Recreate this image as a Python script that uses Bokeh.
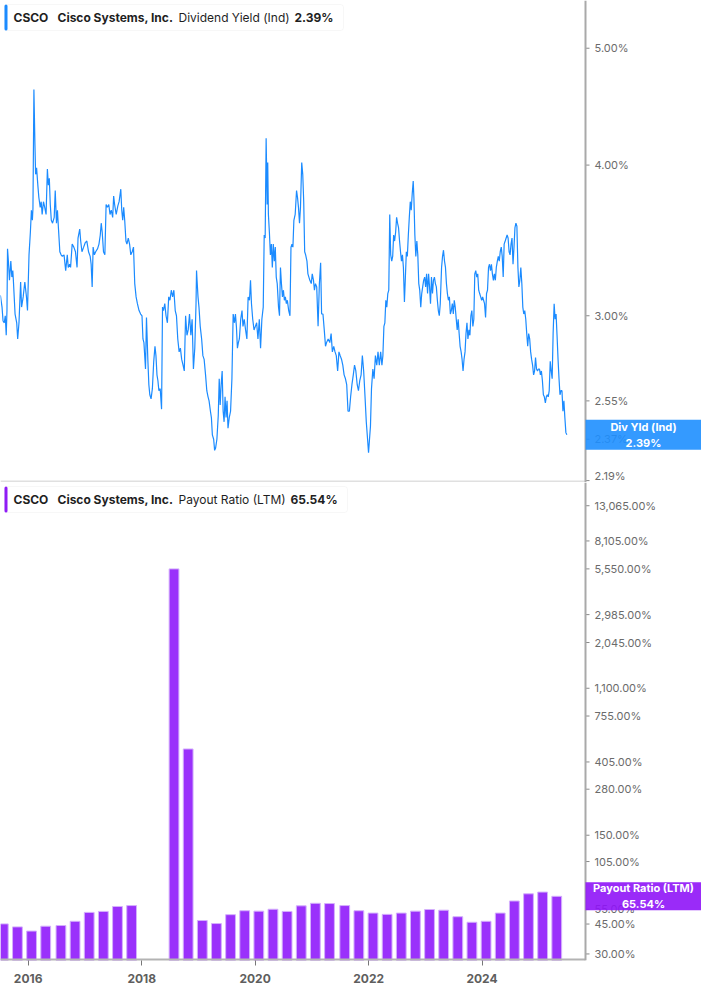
import numpy as np
import pandas as pd
from bokeh.plotting import figure
from bokeh.layouts import column
from bokeh.models import (FixedTicker, Label, Range1d, DatetimeTickFormatter,
                          ColumnDataSource, BoxAnnotation, Span)
from bokeh.core.properties import value
from bokeh.embed import file_html
from bokeh.resources import INLINE

# ---------------- data ----------------
symbol = "CSCO"
company = "Cisco Systems, Inc."
yield_name = "Dividend Yield (Ind)"
payout_name = "Payout Ratio (LTM)"
yield_short = "Div Yld (Ind)"
yield_last = 2.39
payout_last = 65.54

# dividend yield (%) at decimal-year dates
yield_t = [
2015.510, 2015.539, 2015.557, 2015.579, 2015.596, 2015.613, 2015.626, 2015.636, 2015.653, 2015.670,
2015.694, 2015.712, 2015.729, 2015.739, 2015.769, 2015.798, 2015.815, 2015.838, 2015.867, 2015.884,
2015.912, 2015.941, 2015.970, 2015.988, 2016.015, 2016.039, 2016.057, 2016.074, 2016.084, 2016.101,
2016.119, 2016.131, 2016.148, 2016.170, 2016.188, 2016.212, 2016.229, 2016.246, 2016.269, 2016.291,
2016.315, 2016.338, 2016.355, 2016.372, 2016.389, 2016.407, 2016.429, 2016.458, 2016.476, 2016.498,
2016.515, 2016.532, 2016.557, 2016.579, 2016.601, 2016.631, 2016.660, 2016.688, 2016.705, 2016.729,
2016.746, 2016.774, 2016.803, 2016.832, 2016.860, 2016.877, 2016.907, 2016.924, 2016.946, 2016.976,
2017.005, 2017.032, 2017.062, 2017.091, 2017.108, 2017.126, 2017.143, 2017.165, 2017.188, 2017.222,
2017.246, 2017.269, 2017.286, 2017.303, 2017.326, 2017.350, 2017.372, 2017.394, 2017.419, 2017.441,
2017.463, 2017.488, 2017.505, 2017.522, 2017.550, 2017.579, 2017.601, 2017.631, 2017.648, 2017.665,
2017.682, 2017.700, 2017.722, 2017.739, 2017.763, 2017.786, 2017.808, 2017.832, 2017.855, 2017.877,
2017.901, 2017.924, 2017.953, 2017.981, 2018.005, 2018.022, 2018.039, 2018.067, 2018.084, 2018.108,
2018.126, 2018.143, 2018.165, 2018.188, 2018.212, 2018.234, 2018.251, 2018.269, 2018.286, 2018.303,
2018.326, 2018.350, 2018.367, 2018.384, 2018.407, 2018.429, 2018.453, 2018.476, 2018.498, 2018.522,
2018.545, 2018.567, 2018.591, 2018.613, 2018.636, 2018.660, 2018.682, 2018.705, 2018.729, 2018.751,
2018.774, 2018.798, 2018.820, 2018.843, 2018.867, 2018.889, 2018.912, 2018.936, 2018.958, 2018.967,
2018.976, 2018.993, 2019.010, 2019.032, 2019.057, 2019.079, 2019.101, 2019.126, 2019.148, 2019.170,
2019.188, 2019.212, 2019.229, 2019.246, 2019.269, 2019.286, 2019.303, 2019.326, 2019.350, 2019.367,
2019.384, 2019.401, 2019.419, 2019.436, 2019.453, 2019.470, 2019.488, 2019.505, 2019.522, 2019.544,
2019.567, 2019.591, 2019.613, 2019.636, 2019.653, 2019.670, 2019.688, 2019.705, 2019.722, 2019.746,
2019.769, 2019.786, 2019.808, 2019.832, 2019.855, 2019.877, 2019.901, 2019.919, 2019.936, 2019.958,
2019.981, 2020.005, 2020.027, 2020.050, 2020.074, 2020.096, 2020.119, 2020.143, 2020.160, 2020.177,
2020.194, 2020.212, 2020.222, 2020.234, 2020.251, 2020.269, 2020.286, 2020.303, 2020.320, 2020.338,
2020.355, 2020.372, 2020.389, 2020.412, 2020.429, 2020.446, 2020.463, 2020.481, 2020.498, 2020.515,
2020.532, 2020.550, 2020.567, 2020.591, 2020.613, 2020.631, 2020.648, 2020.665, 2020.682, 2020.705,
2020.729, 2020.746, 2020.763, 2020.781, 2020.798, 2020.820, 2020.838, 2020.855, 2020.872, 2020.889,
2020.912, 2020.929, 2020.946, 2020.963, 2020.988, 2021.005, 2021.027, 2021.044, 2021.062, 2021.084,
2021.108, 2021.131, 2021.153, 2021.170, 2021.194, 2021.217, 2021.239, 2021.257, 2021.286, 2021.315,
2021.338, 2021.360, 2021.384, 2021.407, 2021.429, 2021.453, 2021.476, 2021.498, 2021.522, 2021.544,
2021.567, 2021.591, 2021.613, 2021.636, 2021.660, 2021.682, 2021.705, 2021.729, 2021.751, 2021.774,
2021.798, 2021.820, 2021.843, 2021.867, 2021.889, 2021.912, 2021.936, 2021.958, 2021.981, 2021.998,
2022.015, 2022.032, 2022.050, 2022.074, 2022.096, 2022.119, 2022.143, 2022.165, 2022.188, 2022.212,
2022.234, 2022.251, 2022.269, 2022.286, 2022.303, 2022.320, 2022.338, 2022.355, 2022.372, 2022.389,
2022.407, 2022.424, 2022.441, 2022.458, 2022.476, 2022.493, 2022.510, 2022.527, 2022.545, 2022.562,
2022.579, 2022.596, 2022.613, 2022.631, 2022.648, 2022.665, 2022.682, 2022.700, 2022.717, 2022.734,
2022.751, 2022.769, 2022.786, 2022.798, 2022.815, 2022.832, 2022.850, 2022.867, 2022.884, 2022.901,
2022.919, 2022.936, 2022.953, 2022.970, 2022.988, 2023.005, 2023.022, 2023.039, 2023.057, 2023.074,
2023.091, 2023.108, 2023.126, 2023.143, 2023.160, 2023.177, 2023.194, 2023.212, 2023.229, 2023.246,
2023.263, 2023.286, 2023.303, 2023.320, 2023.338, 2023.355, 2023.372, 2023.389, 2023.407, 2023.424,
2023.441, 2023.458, 2023.476, 2023.493, 2023.510, 2023.527, 2023.545, 2023.562, 2023.579, 2023.596,
2023.613, 2023.631, 2023.648, 2023.665, 2023.682, 2023.700, 2023.717, 2023.734, 2023.751, 2023.769,
2023.786, 2023.803, 2023.820, 2023.838, 2023.855, 2023.872, 2023.889, 2023.907, 2023.924, 2023.941,
2023.958, 2023.976, 2023.993, 2024.010, 2024.027, 2024.044, 2024.062, 2024.079, 2024.096, 2024.114,
2024.131, 2024.148, 2024.165, 2024.182, 2024.200, 2024.217, 2024.234, 2024.251, 2024.269, 2024.286,
2024.303, 2024.320, 2024.338, 2024.355, 2024.372, 2024.389, 2024.407, 2024.424, 2024.441, 2024.458,
2024.476, 2024.493, 2024.510, 2024.527, 2024.545, 2024.562, 2024.579, 2024.596, 2024.613, 2024.631,
2024.648, 2024.665, 2024.682, 2024.700, 2024.717, 2024.734, 2024.751, 2024.769, 2024.786, 2024.803,
2024.820, 2024.838, 2024.855, 2024.872, 2024.889, 2024.907, 2024.924, 2024.941, 2024.958, 2024.976,
2024.993, 2025.010, 2025.027, 2025.044, 2025.062, 2025.079, 2025.096, 2025.114, 2025.131, 2025.148,
2025.165, 2025.182, 2025.200, 2025.217, 2025.234, 2025.251, 2025.269, 2025.286, 2025.303, 2025.320,
2025.338, 2025.355, 2025.372, 2025.389, 2025.407, 2025.424, 2025.441, 2025.458, 2025.476, 2025.493]

yield_v = [
3.12, 3.05, 2.97, 2.96, 3.00, 2.89, 3.03, 3.41, 3.32, 3.21,
3.33, 3.23, 3.27, 3.21, 3.01, 2.96, 2.87, 2.96, 3.20, 3.05,
3.11, 3.20, 3.11, 3.03, 3.37, 3.52, 3.67, 3.60, 3.68, 4.62,
4.16, 3.93, 3.98, 3.85, 3.76, 3.69, 3.73, 3.64, 3.73, 3.69,
3.64, 3.97, 3.85, 3.90, 3.71, 3.60, 3.58, 3.62, 3.81, 3.58,
3.67, 3.55, 3.39, 3.37, 3.36, 3.37, 3.27, 3.37, 3.29, 3.31,
3.29, 3.44, 3.42, 3.39, 3.29, 3.48, 3.54, 3.46, 3.39, 3.42,
3.45, 3.46, 3.39, 3.36, 3.31, 3.17, 3.42, 3.37, 3.39, 3.41,
3.44, 3.50, 3.58, 3.52, 3.39, 3.37, 3.71, 3.69, 3.71, 3.64,
3.67, 3.62, 3.77, 3.71, 3.64, 3.70, 3.73, 3.82, 3.67, 3.60,
3.69, 3.60, 3.46, 3.44, 3.48, 3.44, 3.37, 3.39, 3.42, 3.19,
3.11, 3.07, 3.03, 3.01, 3.00, 2.87, 2.85, 2.71, 2.99, 2.76,
2.63, 2.58, 2.56, 2.61, 2.75, 2.83, 2.78, 2.68, 2.65, 2.60,
2.61, 2.51, 3.05, 3.03, 3.07, 3.00, 2.96, 3.11, 3.09, 3.15,
3.11, 3.15, 3.03, 3.00, 2.87, 2.80, 2.82, 2.76, 2.73, 2.70,
3.00, 2.89, 2.92, 3.01, 2.89, 2.98, 2.71, 2.82, 3.07, 3.27,
3.21, 3.11, 3.05, 2.94, 2.87, 2.78, 2.76, 2.68, 2.60, 2.57,
2.55, 2.50, 2.47, 2.39, 2.37, 2.32, 2.33, 2.37, 2.48, 2.66,
2.53, 2.63, 2.70, 2.50, 2.45, 2.57, 2.47, 2.55, 2.42, 2.47,
2.50, 2.66, 3.01, 2.96, 3.01, 2.94, 2.82, 2.85, 2.87, 2.98,
3.03, 2.94, 2.98, 2.92, 2.87, 3.11, 3.09, 3.21, 3.07, 2.98,
2.92, 2.94, 2.96, 2.87, 2.98, 2.82, 2.98, 3.05, 3.50, 3.48,
4.21, 3.71, 4.02, 3.64, 3.52, 3.37, 3.44, 3.29, 3.44, 3.33,
3.42, 3.23, 3.19, 3.05, 3.00, 3.29, 3.19, 3.11, 3.15, 3.09,
3.11, 3.07, 3.09, 3.03, 3.00, 3.42, 3.44, 3.42, 3.60, 3.64,
3.81, 3.76, 3.69, 3.58, 3.69, 4.02, 3.93, 3.73, 3.39, 3.37,
3.33, 3.25, 3.23, 3.21, 3.19, 3.25, 3.21, 3.15, 3.19, 3.17,
2.94, 3.19, 3.32, 3.01, 3.01, 2.92, 2.83, 2.85, 2.87, 2.85,
2.90, 2.80, 2.83, 2.80, 2.78, 2.70, 2.80, 2.78, 2.76, 2.73,
2.68, 2.66, 2.63, 2.50, 2.50, 2.57, 2.63, 2.68, 2.73, 2.70,
2.63, 2.60, 2.65, 2.68, 2.78, 2.70, 2.57, 2.45, 2.37, 2.31,
2.37, 2.43, 2.61, 2.71, 2.66, 2.78, 2.73, 2.80, 2.73, 2.80,
2.73, 2.78, 2.94, 2.96, 3.09, 3.05, 3.13, 3.15, 3.64, 3.37,
3.33, 3.36, 3.50, 3.46, 3.52, 3.62, 3.58, 3.55, 3.46, 3.39,
3.33, 3.37, 3.29, 3.08, 3.23, 3.39, 3.36, 3.50, 3.62, 3.73,
3.67, 3.79, 3.88, 3.76, 3.50, 3.36, 3.46, 3.37, 3.19, 3.15,
3.05, 3.13, 3.17, 3.21, 3.23, 3.17, 3.25, 3.13, 3.25, 3.17,
3.07, 3.23, 3.13, 3.21, 3.23, 3.19, 3.17, 3.09, 3.03, 3.00,
3.07, 3.29, 3.36, 3.40, 3.33, 3.29, 3.19, 3.13, 3.09, 3.11,
3.01, 3.03, 3.07, 3.01, 3.09, 3.05, 2.98, 2.92, 2.98, 2.90,
2.83, 2.80, 2.76, 2.70, 2.76, 2.80, 2.90, 2.96, 2.87, 2.92,
2.89, 3.00, 3.03, 2.94, 2.98, 3.25, 3.27, 3.23, 3.25, 3.15,
3.13, 3.11, 3.09, 3.11, 3.09, 3.07, 2.99, 3.13, 3.15, 3.29,
3.31, 3.27, 3.31, 3.25, 3.21, 3.25, 3.21, 3.29, 3.33, 3.36,
3.33, 3.39, 3.42, 3.36, 3.23, 3.44, 3.46, 3.48, 3.50, 3.48,
3.39, 3.37, 3.44, 3.48, 3.31, 3.42, 3.55, 3.58, 3.56, 3.29,
3.17, 3.21, 3.29, 3.19, 3.05, 3.01, 3.03, 2.98, 2.90, 2.83,
2.90, 2.87, 2.80, 2.76, 2.73, 2.68, 2.70, 2.77, 2.71, 2.70,
2.71, 2.71, 2.68, 2.70, 2.65, 2.58, 2.57, 2.54, 2.57, 2.58,
2.57, 2.60, 2.75, 2.70, 2.66, 2.90, 3.07, 2.98, 3.01, 2.89,
2.76, 2.66, 2.58, 2.60, 2.60, 2.50, 2.55, 2.47, 2.40, 2.39]

# payout ratio (LTM, %) at fiscal quarter ends; None = not shown (negative)
payout_dates = ["2015-07-25", "2015-10-24", "2016-01-23", "2016-04-23", "2016-07-30",
                "2016-10-29", "2017-01-28", "2017-04-29", "2017-07-29", "2017-10-28",
                "2018-01-27", "2018-04-28", "2018-07-28", "2018-10-27", "2019-01-26",
                "2019-04-27", "2019-07-27", "2019-10-26", "2020-01-25", "2020-04-25",
                "2020-07-25", "2020-10-24", "2021-01-23", "2021-04-24", "2021-07-31",
                "2021-10-30", "2022-01-29", "2022-04-30", "2022-07-30", "2022-10-29",
                "2023-01-28", "2023-04-29", "2023-07-29", "2023-10-28", "2024-01-27",
                "2024-04-27", "2024-07-27", "2024-10-26", "2025-01-25", "2025-04-26"]
payout_v = [45.1, 43.3, 40.9, 43.7, 44.1, 46.7, 52.7, 53.4, 57.1, 57.8,
            None, None, 5550.0, 483.0, 47.2, 45.3, 51.1, 53.9, 53.6, 55.0,
            53.4, 57.6, 59.6, 59.4, 57.8, 53.9, 52.2, 51.3, 52.2, 53.6,
            54.8, 54.3, 49.7, 46.1, 46.7, 52.2, 61.5, 67.8, 69.4, 65.54]

yield_ticks = [2.19, 2.37, 2.55, 3.00, 4.00, 5.00]
payout_ticks = [30, 45, 55, 105, 150, 280, 405, 755, 1100, 2045, 2985, 5550, 8105, 13065]
year_ticks = ["2016-01-01", "2018-01-01", "2020-01-01", "2022-01-01", "2024-01-01"]

x_window = (2015.512, 2025.822)      # left edge .. value-axis position
yield_window = (2.182, 5.477)
payout_window = (27.45, 17900.0)

# ---------------- helpers ----------------
def frac_year(ts):
    t = np.asarray(ts, float)
    yrs = np.floor(t).astype(int)
    starts = pd.to_datetime([f"{y}-01-01" for y in yrs])
    ends = pd.to_datetime([f"{y + 1}-01-01" for y in yrs])
    return starts + (ends - starts) * (t - yrs)

def ms(ts):
    return pd.Timestamp(ts).value / 1e6

FONT = "Inter"
BLUE = "#1b8bff"
PURPLE = "#9a31fb"
AXIS_GREY = "#a9a9a9"
W = 701
AX = 585                 # pixel position of the value axis
xw = frac_year(list(x_window))
x_start, x_axis = ms(xw[0]), ms(xw[1])
ms_per_px = (x_axis - x_start) / AX
x_end = x_start + W * ms_per_px
xr = Range1d(start=x_start, end=x_end)

def pct(v):
    return f"{v:,.2f}%"

def base_style(p):
    p.grid.visible = False
    p.outline_line_color = None
    p.background_fill_color = "white"
    p.border_fill_color = "white"

def screen_y(yv, rng, frame_h):
    return frame_h * (np.log(yv) - np.log(rng[0])) / (np.log(rng[1]) - np.log(rng[0]))

def value_axis(p, ticks, rng, frame_h):
    # axis line, outward ticks and labels at the value-axis position
    p.add_layout(Span(location=x_axis, dimension="height", line_color=AXIS_GREY,
                      line_width=2))
    # labels too close to the bottom edge are lifted so they stay fully visible
    offs = [float(min(0.0, screen_y(t, rng, frame_h) - 7.0)) for t in ticks]
    src = ColumnDataSource(dict(x0=[x_axis] * len(ticks),
                                x1=[x_axis + 4 * ms_per_px] * len(ticks),
                                y=ticks, lab=[pct(t) for t in ticks], yo=offs))
    p.segment(x0="x0", y0="y", x1="x1", y1="y", source=src, line_color="#8a8a8a",
              line_width=1)
    p.text(x="x0", y="y", text="lab", source=src, x_offset=9, y_offset="yo",
           text_baseline="middle", text_align="left", text_font=value(FONT),
           text_font_size=value("11px"), text_color="#6b6b6b")

def header(p, frame_h, accent, metric, val, val_x, box_r):
    top, bot = frame_h - 4, frame_h - 30
    p.add_layout(BoxAnnotation(left=4, right=box_r, top=top, bottom=bot,
                               left_units="screen", right_units="screen",
                               top_units="screen", bottom_units="screen",
                               fill_color="white", fill_alpha=1.0,
                               line_color="#e4e4e4", line_width=1, border_radius=3))
    p.add_layout(BoxAnnotation(left=4, right=7, top=top, bottom=bot,
                               left_units="screen", right_units="screen",
                               top_units="screen", bottom_units="screen",
                               fill_color=accent, fill_alpha=1.0, line_color=None,
                               border_radius=2))
    cy = (top + bot) / 2
    parts = [(13, symbol, "bold"), (57, company, "bold"), (178, metric, "normal"),
             (val_x, val, "bold")]
    for x, t, st in parts:
        p.add_layout(Label(x=x, y=cy, x_units="screen", y_units="screen", text=t,
                           text_font=FONT, text_font_size="12px", text_font_style=st,
                           text_color="#1f1f1f", text_baseline="middle", text_align="left"))

def value_box(p, yv, rng, frame_h, color, text, half_h):
    sy = screen_y(yv, rng, frame_h)
    p.add_layout(BoxAnnotation(left=x_axis, right=x_end, top=float(sy + half_h),
                               bottom=float(sy - half_h), top_units="screen",
                               bottom_units="screen", fill_color=color, fill_alpha=0.9,
                               line_color=None))
    p.add_layout(Label(x=x_axis, y=yv, x_offset=(W - AX) / 2, text=text, text_font=FONT,
                       text_font_size="11px", text_font_style="bold", text_color="white",
                       text_align="center", text_baseline="middle", text_line_height=1.15))

def edge_line(p, yv, color):
    src = ColumnDataSource(dict(x0=[x_start], x1=[x_axis], y=[yv]))
    p.segment(x0="x0", y0="y", x1="x1", y1="y", source=src, line_color=color, line_width=4)

# ---------------- top: dividend yield ----------------
TOP_FH = 482
p1 = figure(width=W, height=TOP_FH, x_axis_type="datetime", y_axis_type="log",
            x_range=xr, y_range=Range1d(*yield_window), x_axis_location=None,
            y_axis_location=None, output_backend="svg", toolbar_location=None,
            min_border_left=0, min_border_right=0, min_border_top=0, min_border_bottom=0)
base_style(p1)
value_axis(p1, yield_ticks, yield_window, TOP_FH)
edge_line(p1, yield_window[0], "#e0e0e0")

ysrc = ColumnDataSource(dict(t=frac_year(yield_t), v=yield_v))
p1.line("t", "v", source=ysrc, line_color=BLUE, line_width=1.2)
header(p1, TOP_FH, BLUE, yield_name, pct(yield_last), 294, 343)
value_box(p1, yield_last, yield_window, TOP_FH, "#1e8fff",
          f"{yield_short}\n{pct(yield_last)}", 15)

# ---------------- bottom: payout ratio ----------------
BOT_FH = 478
p2 = figure(width=W, height=BOT_FH + 29, x_axis_type="datetime", y_axis_type="log",
            x_range=xr, y_range=Range1d(*payout_window), y_axis_location=None,
            output_backend="svg", toolbar_location=None,
            min_border_left=0, min_border_right=0, min_border_top=0, min_border_bottom=29)
base_style(p2)
xa = p2.xaxis[0]
xa.ticker = FixedTicker(ticks=[ms(d) for d in year_ticks], minor_ticks=[])
xa.formatter = DatetimeTickFormatter(microseconds="%Y", milliseconds="%Y", seconds="%Y",
                                     minsec="%Y", minutes="%Y", hourmin="%Y", hours="%Y",
                                     days="%Y", months="%Y", years="%Y")
xa.axis_line_color = None
xa.major_tick_line_color = "#777777"
xa.major_tick_out = 5
xa.major_tick_in = 0
xa.minor_tick_line_color = None
xa.major_label_standoff = 8
xa.major_label_text_font = FONT
xa.major_label_text_font_size = "12px"
xa.major_label_text_font_style = "bold"
xa.major_label_text_color = "#5e5e5e"

keep = [i for i, v in enumerate(payout_v) if v is not None]
bsrc = ColumnDataSource(dict(d=pd.to_datetime([payout_dates[i] for i in keep]),
                             v=[payout_v[i] for i in keep]))
bar_w = 63 * 24 * 3600 * 1000
p2.vbar(x="d", top="v", bottom=payout_window[0] * 0.5, width=bar_w, source=bsrc,
        fill_color=PURPLE, line_color="#d4b0fc", line_width=1)
value_axis(p2, payout_ticks, payout_window, BOT_FH)
edge_line(p2, payout_window[0], "#b3b3b3")
header(p2, BOT_FH, "#8f1cf6", payout_name, pct(payout_last), 290, 347)
value_box(p2, payout_last, payout_window, BOT_FH, "#8f14f7",
          f"{payout_name}\n{pct(payout_last)}", 14)

layout = column(p1, p2, spacing=0)
open("out.html", "w").write(file_html(layout, INLINE))
